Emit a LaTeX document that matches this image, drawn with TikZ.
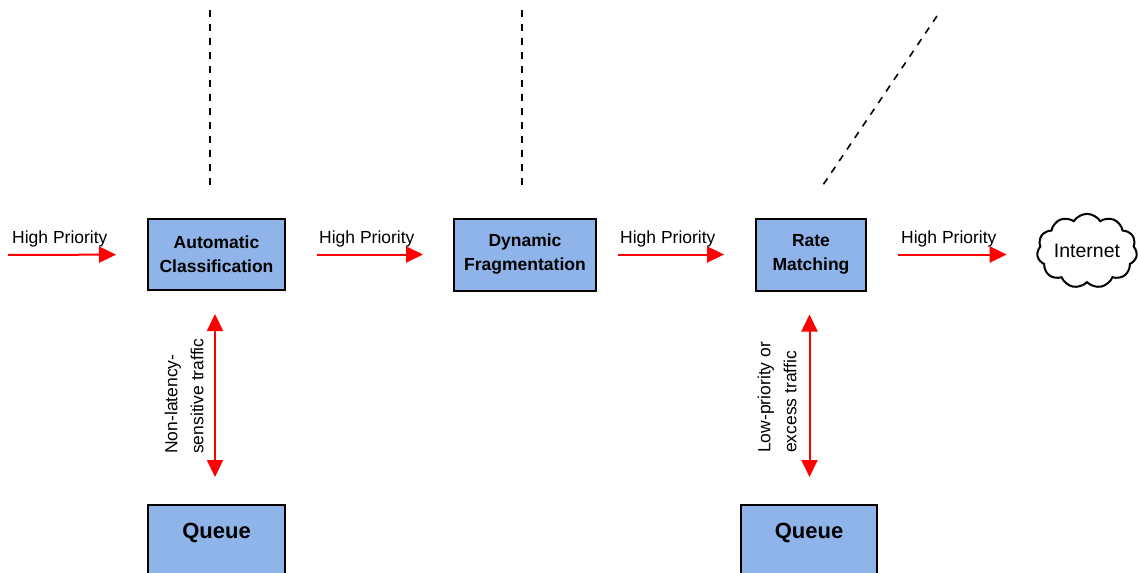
\documentclass[tikz,border=0pt]{standalone}
\usepackage{fontspec}
\setmainfont{Liberation Sans}
\usetikzlibrary{arrows.meta,shapes.symbols}
\definecolor{boxblue}{RGB}{142,180,234}
\definecolor{arrred}{RGB}{255,0,0}
\tikzset{
  procbox/.style={draw=black, line width=2pt, fill=boxblue, inner sep=0pt, align=center,
    font=\fontsize{17.5}{24}\selectfont\bfseries},
  queuebox/.style={draw=black, line width=2pt, fill=boxblue, inner sep=0pt},
  redarrow/.style={draw=arrred, line width=2pt, -{Triangle[length=17pt,width=16pt]}},
  redboth/.style={draw=arrred, line width=2pt, {Triangle[length=17pt,width=16pt]}-{Triangle[length=17pt,width=16pt]}},
  arrlabel/.style={inner sep=0pt, anchor=base west, font=\fontsize{17.5}{21}\selectfont},
  sidelabel/.style={inner sep=0pt, rotate=90, anchor=west, align=left, font=\fontsize{17.5}{26}\selectfont},
  dashline/.style={line width=1.6pt, dash pattern=on 7pt off 7pt},
  cloudnode/.style={cloud, cloud puffs=11, cloud puff arc=115, aspect=1.5, draw=black, line width=2pt,
    minimum width=100pt, minimum height=68pt, inner sep=0pt, font=\fontsize{19.5}{22}\selectfont}
}
\begin{document}
\begin{tikzpicture}[x=1pt,y=-1pt]
\useasboundingbox (0,0) rectangle (1138,573);
\clip (0,0) rectangle (1138,573);
% process boxes
\node[procbox, minimum width=137pt, minimum height=71pt] (ac) at (216.5,254.5) {Automatic\\Classification};
\node[procbox, minimum width=142pt, minimum height=72pt] (df) at (525,254.5) {Dynamic\\Fragmentation};
\node[procbox, minimum width=110pt, minimum height=72pt] (rm) at (811,254.5) {Rate\\Matching};
\node[cloudnode] (net) at (1087,251) {Internet};
% queues (cut off at the bottom)
\node[queuebox, minimum width=137pt, minimum height=140pt, anchor=north] (q1) at (216.5,504) {};
\node[queuebox, minimum width=136pt, minimum height=140pt, anchor=north] (q2) at (809,504) {};
\node[inner sep=0pt, anchor=base, font=\fontsize{22}{24}\selectfont\bfseries] (q1t) at (216.5,538) {Queue};
\node[inner sep=0pt, anchor=base, font=\fontsize{22}{24}\selectfont\bfseries] (q2t) at (809,538) {Queue};
% high priority arrows
\coordinate (in) at (8,255);
\draw[redarrow, shorten >=31pt] (in) -- (ac.west);
\draw[redarrow, shorten <=31pt, shorten >=30pt] (ac.east) -- (df.west);
\draw[redarrow, shorten <=21pt, shorten >=31pt] (df.east) -- (rm.west);
\draw[redarrow, shorten <=31pt, shorten >=30pt] (rm.east) -- (rm.east -| net.west);
\node[arrlabel] (l1) at (12,243) {High Priority};
\node[arrlabel] (l2) at (319,243) {High Priority};
\node[arrlabel] (l3) at (620,243) {High Priority};
\node[arrlabel] (l4) at (901,243) {High Priority};
% vertical double arrows
\draw[redboth, shorten <=23pt, shorten >=27pt] (ac.south -| 215,0) -- (q1.north -| 215,0);
\draw[redboth, shorten <=23pt, shorten >=27pt] (rm.south -| 809.5,0) -- (q2.north -| 809.5,0);
\node[sidelabel] (s1) at (184,454) {Non-latency-\\sensitive traffic};
\node[sidelabel] (s2) at (777,453) {Low-priority or\\excess traffic};
% dashed lines
\coordinate (d1a) at (210,10); \coordinate (d1b) at (210,185);
\coordinate (d2a) at (522,10); \coordinate (d2b) at (522,185);
\coordinate (d3a) at (937,16); \coordinate (d3b) at (823,185);
\draw[dashline] (d1a) -- (d1b);
\draw[dashline] (d2a) -- (d2b);
\draw[dashline] (d3a) -- (d3b);
\end{tikzpicture}
\end{document}
